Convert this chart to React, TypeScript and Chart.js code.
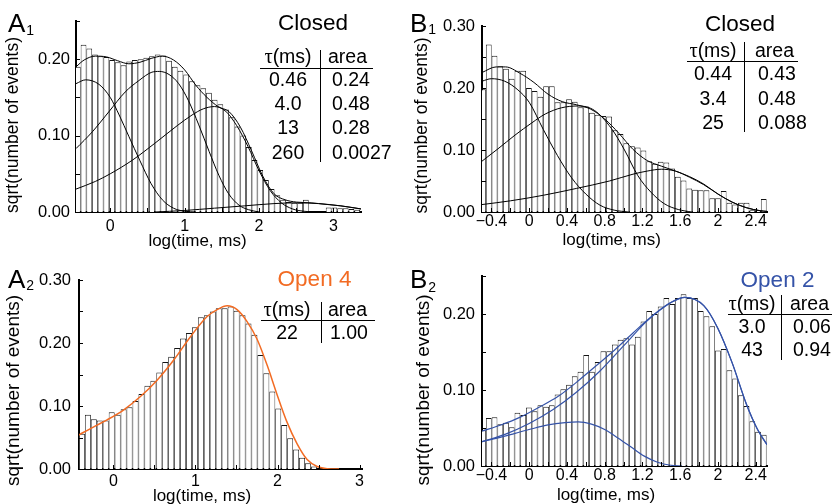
import React, { useEffect, useRef } from 'react';
import { Chart, registerables } from 'chart.js';

Chart.register(...registerables);

const SANS = "'Liberation Sans', Arial, Helvetica, sans-serif";
const SERIF = "'Liberation Serif', 'Times New Roman', serif";
Chart.defaults.font.family = SANS;
Chart.defaults.color = '#000';

const INK = '#000000';
const BAR_EDGE = '#141414';
const ORANGE = '#f26b23';
const BLUE = '#3553a8';

type Pt = [number, number];

// ---- axis ticks -------------------------------------------------------
const A_X_TICKS = [0, 0.5, 1, 1.5, 2, 2.5, 3];
const A_X_LABELS = ['0', '', '1', '', '2', '', '3'];
const B_X_TICKS = [-0.4, -0.2, 0, 0.2, 0.4, 0.6, 0.8, 1.0, 1.2, 1.4, 1.6, 1.8, 2.0, 2.2, 2.4];
const B_X_LABELS = ['\u22120.4', '', '0', '', '0.4', '', '0.8', '', '1.2', '', '1.6', '', '2', '', '2.4'];
const Y_TICKS_25 = [0, 0.05, 0.1, 0.15, 0.2, 0.25];
const Y_LABELS_25 = ['0.00', '', '0.10', '', '0.20', ''];
const Y_TICKS_30 = [0, 0.05, 0.1, 0.15, 0.2, 0.25, 0.3];
const Y_LABELS_30 = ['0.00', '', '0.10', '', '0.20', '', '0.30'];

// ---- histogram bins (log10 of dwell time, ms) -------------------------
const A1_BIN_START = -0.4734;
const A1_BIN_WIDTH = 0.0766;
const A2_BIN_START = -0.42;
const A2_BIN_WIDTH = 0.0725;
const B_BIN_START = -0.519;
const B_BIN_WIDTH = 0.0607;

// sqrt(number of events) per bin
const A1_BARS = [
  0.190, 0.219, 0.214, 0.206, 0.204, 0.203, 0.199, 0.196, 0.192, 0.197,
  0.199, 0.200, 0.202, 0.204, 0.206, 0.205, 0.198, 0.190, 0.185, 0.180,
  0.171, 0.166, 0.162, 0.156, 0.147, 0.141, 0.134, 0.124, 0.112, 0.100,
  0.085, 0.068, 0.055, 0.042, 0.030, 0.022, 0.016, 0.013, 0.012, 0.012,
  0.016, 0, 0, 0, 0.006, 0.006, 0.005, 0.005, 0.004, 0.003,
];
const A2_BARS = [
  0.056, 0.086, 0.079, 0.077, 0.077, 0.090, 0.086, 0.095, 0.098, 0.108,
  0.119, 0.132, 0.140, 0.153, 0.170, 0.178, 0.192, 0.207, 0.216, 0.225,
  0.241, 0.244, 0.250, 0.255, 0.255, 0.258, 0.251, 0.244, 0.231, 0.213,
  0.181, 0.152, 0.123, 0.096, 0.070, 0.049, 0.031, 0.018, 0.009, 0.004,
];
const B1_BARS = [
  0.198, 0.270, 0.252, 0.235, 0.231, 0.215, 0.228, 0.228, 0.200, 0.195,
  0.186, 0.203, 0.203, 0.177, 0.177, 0.182, 0.178, 0.169, 0.170, 0.160,
  0.157, 0.155, 0.154, 0.132, 0.126, 0.111, 0.106, 0.104, 0.099, 0.082,
  0.078, 0.081, 0.080, 0.070, 0.057, 0.051, 0.038, 0.036, 0.035, 0.035,
  0.022, 0.022, 0.034, 0.015, 0.012, 0.015, 0.015, 0.003, 0.003, 0.021,
];
const B2_BARS = [
  0.047, 0.063, 0.064, 0.055, 0.057, 0.051, 0.070, 0.067, 0.077, 0.072,
  0.080, 0.078, 0.080, 0.094, 0.101, 0.107, 0.118, 0.124, 0.146, 0.124,
  0.137, 0.151, 0.151, 0.160, 0.166, 0.168, 0.160, 0.170, 0.190, 0.204,
  0.200, 0.210, 0.221, 0.213, 0.221, 0.226, 0.221, 0.221, 0.204, 0.197,
  0.184, 0.152, 0.154, 0.126, 0.115, 0.093, 0.079, 0.059, 0.045, 0.041,
];

// ---- fitted curves: [log time, sqrt(events)] --------------------------
const A1_FIT_SUM: Pt[] = [
  [-0.46, 0.190], [-0.35, 0.199], [-0.2, 0.204], [-0.05, 0.203], [0.1, 0.198],
  [0.25, 0.194], [0.4, 0.196], [0.55, 0.201], [0.7, 0.204], [0.85, 0.199],
  [1.0, 0.186], [1.15, 0.166], [1.3, 0.150], [1.45, 0.138], [1.6, 0.131],
  [1.75, 0.111], [1.9, 0.080], [2.05, 0.047], [2.2, 0.024], [2.35, 0.016],
  [2.5, 0.013], [2.7, 0.012], [2.9, 0.010], [3.1, 0.008], [3.37, 0.004],
];
const A1_FIT_C1: Pt[] = [
  [-0.46, 0.168], [-0.33, 0.173], [-0.15, 0.167], [0.0, 0.150], [0.12, 0.127],
  [0.25, 0.099], [0.4, 0.067], [0.55, 0.037], [0.7, 0.016], [0.85, 0.005],
  [1.0, 0.001], [1.15, 0],
];
const A1_FIT_C2: Pt[] = [
  [-0.46, 0.083], [-0.24, 0.105], [-0.02, 0.131], [0.2, 0.157], [0.385, 0.172],
  [0.56, 0.183], [0.66, 0.184], [0.79, 0.180], [0.92, 0.168], [1.05, 0.146],
  [1.19, 0.114], [1.33, 0.079], [1.46, 0.048], [1.59, 0.024], [1.73, 0.009],
  [1.86, 0.003], [2.0, 0],
];
const A1_FIT_C3: Pt[] = [
  [-0.46, 0.030], [-0.2, 0.040], [0.0, 0.050], [0.3, 0.068], [0.6, 0.090],
  [0.9, 0.113], [1.1, 0.127], [1.25, 0.135], [1.4, 0.138], [1.55, 0.132],
  [1.7, 0.113], [1.85, 0.086], [2.0, 0.054], [2.15, 0.028], [2.3, 0.012],
  [2.45, 0.004], [2.6, 0.001], [2.75, 0],
];
const A1_FIT_C4: Pt[] = [
  [0.6, 0], [1.0, 0.002], [1.4, 0.005], [1.8, 0.008], [2.2, 0.011],
  [2.5, 0.012], [2.8, 0.011], [3.1, 0.008], [3.37, 0.004],
];
const A2_FIT: Pt[] = [
  [-0.423, 0.054], [-0.24, 0.067], [-0.078, 0.078], [0.126, 0.094], [0.329, 0.115],
  [0.532, 0.141], [0.735, 0.173], [0.939, 0.210], [1.142, 0.242], [1.264, 0.253],
  [1.386, 0.259], [1.507, 0.253], [1.629, 0.234], [1.751, 0.206], [1.873, 0.165],
  [1.995, 0.118], [2.117, 0.074], [2.239, 0.040], [2.361, 0.015], [2.483, 0.004],
  [2.605, 0.0005], [2.75, 0],
];
const B1_FIT_SUM: Pt[] = [
  [-0.5, 0.225], [-0.35, 0.234], [-0.25, 0.234], [-0.1, 0.224], [0.05, 0.209],
  [0.2, 0.190], [0.35, 0.178], [0.5, 0.173], [0.65, 0.166], [0.8, 0.150],
  [0.95, 0.127], [1.1, 0.101], [1.25, 0.083], [1.4, 0.074], [1.55, 0.066],
  [1.7, 0.057], [1.85, 0.045], [2.0, 0.029], [2.15, 0.016], [2.3, 0.007],
  [2.45, 0.002], [2.52, 0.001],
];
const B1_FIT_C1: Pt[] = [
  [-0.5, 0.211], [-0.4, 0.215], [-0.26, 0.211], [-0.12, 0.197], [0.0, 0.177],
  [0.15, 0.133], [0.3, 0.091], [0.45, 0.055], [0.6, 0.029], [0.75, 0.011],
  [0.9, 0.003], [1.05, 0],
];
const B1_FIT_C2: Pt[] = [
  [-0.5, 0.082], [-0.33, 0.102], [-0.15, 0.124], [0.03, 0.144], [0.17, 0.158],
  [0.34, 0.168], [0.52, 0.171], [0.69, 0.164], [0.87, 0.135], [1.01, 0.100],
  [1.15, 0.059], [1.29, 0.032], [1.43, 0.0135], [1.58, 0.004], [1.72, 0],
];
const B1_FIT_C3: Pt[] = [
  [-0.5, 0.012], [-0.2, 0.018], [0.15, 0.027], [0.5, 0.038], [0.85, 0.050],
  [1.1, 0.061], [1.25, 0.066], [1.4, 0.069], [1.55, 0.066], [1.7, 0.056],
  [1.85, 0.044], [2.0, 0.029], [2.15, 0.016], [2.3, 0.007], [2.45, 0.002],
  [2.52, 0.001],
];
const B2_FIT_SUM: Pt[] = [
  [-0.5, 0.046], [-0.3, 0.054], [-0.1, 0.064], [0.1, 0.077], [0.3, 0.091],
  [0.5, 0.110], [0.7, 0.131], [0.9, 0.152], [1.1, 0.175], [1.3, 0.197],
  [1.5, 0.215], [1.65, 0.222], [1.85, 0.211], [2.0, 0.181], [2.15, 0.136],
  [2.3, 0.082], [2.42, 0.048], [2.52, 0.028],
];
const B2_FIT_C1: Pt[] = [
  [-0.5, 0.032], [-0.33, 0.037], [-0.15, 0.043], [0.03, 0.049], [0.2, 0.054],
  [0.38, 0.057], [0.52, 0.058], [0.66, 0.055], [0.8, 0.048], [0.94, 0.037],
  [1.08, 0.025], [1.22, 0.013], [1.36, 0.005], [1.5, 0.001], [1.62, 0],
];
const B2_FIT_C2: Pt[] = [
  [-0.5, 0.032], [-0.25, 0.042], [0.0, 0.056], [0.25, 0.074], [0.5, 0.097],
  [0.75, 0.125], [1.0, 0.158], [1.25, 0.191], [1.5, 0.215], [1.65, 0.222],
  [1.85, 0.211], [2.0, 0.181], [2.15, 0.136], [2.3, 0.082], [2.42, 0.048],
  [2.52, 0.028],
];

// ---- fit parameter tables ---------------------------------------------
const A1_TAU = ['0.46', '4.0', '13', '260'];
const A1_AREA = ['0.24', '0.48', '0.28', '0.0027'];
const B1_TAU = ['0.44', '3.4', '25'];
const B1_AREA = ['0.43', '0.48', '0.088'];
const A2_TAU = ['22'];
const A2_AREA = ['1.00'];
const B2_TAU = ['3.0', '43'];
const B2_AREA = ['0.06', '0.94'];

const Y_TITLE = 'sqrt(number of events)';
const X_TITLE = 'log(time, ms)';

interface Fit { pts: Pt[]; color: string; width: number }
interface Table {
  taus: string[]; areas: string[];
  tauX: number; areaHeadX: number; valX: number; headY: number; rowY: number[];
  ruleY: number; ruleX: [number, number]; divX: number; divY: [number, number];
}
interface Panel {
  id: string; left: number; top: number; width: number; height: number;
  area: { l: number; r: number; t: number; b: number };
  xMin: number; xMax: number; yMax: number;
  xTicks: number[]; xLabels: string[]; yTicks: number[]; yLabels: string[];
  xPad: number; yPad: number;
  binStart: number; binWidth: number; bars: number[];
  fits: Fit[];
  tag: string; sub: string; tagX: number; tagY: number; subDy: number;
  heading: string; headingColor: string; headingX: number; headingY: number;
  yTitleAt: [number, number]; yTitleSize: number; xTitleAt: [number, number];
  table: Table;
}

const PANELS: Panel[] = [
  {
    id: 'A1', left: 0, top: 0, width: 405, height: 252,
    area: { l: 76, r: 361, t: 21, b: 212 },
    xMin: -0.46, xMax: 3.37, yMax: 0.25,
    xTicks: A_X_TICKS, xLabels: A_X_LABELS, yTicks: Y_TICKS_25, yLabels: Y_LABELS_25,
    xPad: 5, yPad: 6,
    binStart: A1_BIN_START, binWidth: A1_BIN_WIDTH, bars: A1_BARS,
    fits: [
      { pts: A1_FIT_SUM, color: INK, width: 1 },
      { pts: A1_FIT_C1, color: INK, width: 1 },
      { pts: A1_FIT_C2, color: INK, width: 1 },
      { pts: A1_FIT_C3, color: INK, width: 1 },
      { pts: A1_FIT_C4, color: INK, width: 1 },
    ],
    tag: 'A', sub: '1', tagX: 8, tagY: 32, subDy: 3,
    heading: 'Closed', headingColor: INK, headingX: 313, headingY: 24,
    yTitleAt: [13, 125], yTitleSize: 17.5, xTitleAt: [197.5, 241],
    table: {
      taus: A1_TAU, areas: A1_AREA, tauX: 288, areaHeadX: 328, valX: 332,
      headY: 57.5, rowY: [80.7, 105, 128.8, 153.3],
      ruleY: 67.7, ruleX: [260, 373], divX: 320, divY: [50, 162],
    },
  },
  {
    id: 'B1', left: 405, top: 0, width: 427, height: 252,
    area: { l: 77, r: 362, t: 26, b: 212 },
    xMin: -0.5, xMax: 2.52, yMax: 0.30,
    xTicks: B_X_TICKS, xLabels: B_X_LABELS, yTicks: Y_TICKS_30, yLabels: Y_LABELS_30,
    xPad: 0, yPad: 7,
    binStart: B_BIN_START, binWidth: B_BIN_WIDTH, bars: B1_BARS,
    fits: [
      { pts: B1_FIT_SUM, color: INK, width: 1 },
      { pts: B1_FIT_C1, color: INK, width: 1 },
      { pts: B1_FIT_C2, color: INK, width: 1 },
      { pts: B1_FIT_C3, color: INK, width: 1 },
    ],
    tag: 'B', sub: '1', tagX: 5, tagY: 32, subDy: 2,
    heading: 'Closed', headingColor: INK, headingX: 335, headingY: 25,
    yTitleAt: [17.5, 125.5], yTitleSize: 17.5, xTitleAt: [206.7, 240],
    table: {
      taus: B1_TAU, areas: B1_AREA, tauX: 308, areaHeadX: 350, valX: 353,
      headY: 51.5, rowY: [75, 99.3, 123.3],
      ruleY: 61, ruleX: [282, 393], divX: 339, divY: [42, 132],
    },
  },
  {
    id: 'A2', left: 0, top: 252, width: 405, height: 252,
    area: { l: 79, r: 362, t: 28, b: 217 },
    xMin: -0.42, xMax: 3.03, yMax: 0.30,
    xTicks: A_X_TICKS, xLabels: A_X_LABELS, yTicks: Y_TICKS_30, yLabels: Y_LABELS_30,
    xPad: 3, yPad: 8,
    binStart: A2_BIN_START, binWidth: A2_BIN_WIDTH, bars: A2_BARS,
    fits: [{ pts: A2_FIT, color: ORANGE, width: 1.5 }],
    tag: 'A', sub: '2', tagX: 8, tagY: 36, subDy: 2,
    heading: 'Open 4', headingColor: ORANGE, headingX: 314.5, headingY: 28,
    yTitleAt: [14, 138.5], yTitleSize: 19, xTitleAt: [202, 244],
    table: {
      taus: A2_TAU, areas: A2_AREA, tauX: 287, areaHeadX: 328, valX: 330,
      headY: 58.5, rowY: [81.3],
      ruleY: 68, ruleX: [261, 375], divX: 321, divY: [50, 91],
    },
  },
  {
    id: 'B2', left: 405, top: 252, width: 427, height: 252,
    area: { l: 77, r: 362, t: 24, b: 214 },
    xMin: -0.5, xMax: 2.52, yMax: 0.25,
    xTicks: B_X_TICKS, xLabels: B_X_LABELS, yTicks: Y_TICKS_25, yLabels: Y_LABELS_25,
    xPad: 0, yPad: 7,
    binStart: B_BIN_START, binWidth: B_BIN_WIDTH, bars: B2_BARS,
    fits: [
      { pts: B2_FIT_SUM, color: BLUE, width: 1.2 },
      { pts: B2_FIT_C1, color: BLUE, width: 1.2 },
      { pts: B2_FIT_C2, color: BLUE, width: 1.2 },
    ],
    tag: 'B', sub: '2', tagX: 5, tagY: 36, subDy: 4,
    heading: 'Open 2', headingColor: BLUE, headingX: 372.5, headingY: 29,
    yTitleAt: [19, 138], yTitleSize: 19, xTitleAt: [201, 243],
    table: {
      taus: B2_TAU, areas: B2_AREA, tauX: 347, areaHeadX: 385, valX: 388,
      headY: 52.5, rowY: [75.7, 99],
      ruleY: 62, ruleX: [323, 427], divX: 376, divY: [43, 108],
    },
  },
];

function putText(
  ctx: CanvasRenderingContext2D, s: string, x: number, y: number, size: number,
  align: CanvasTextAlign = 'center', color = INK, family = SANS,
) {
  ctx.font = `${size}px ${family}`;
  ctx.fillStyle = color;
  ctx.textAlign = align;
  ctx.textBaseline = 'middle';
  ctx.fillText(s, x, y);
}

function segment(ctx: CanvasRenderingContext2D, x1: number, y1: number, x2: number, y2: number) {
  ctx.beginPath();
  ctx.moveTo(x1, y1);
  ctx.lineTo(x2, y2);
  ctx.stroke();
}

// Inward tick marks, panel tag, heading, axis titles and the fit table
function decorations(p: Panel) {
  return {
    id: 'decor' + p.id,
    afterDraw(chart: any) {
      const ctx: CanvasRenderingContext2D = chart.ctx;
      const { left, bottom } = chart.chartArea;
      const xs = chart.scales.x;
      const ys = chart.scales.y;
      ctx.save();
      ctx.strokeStyle = INK;
      ctx.lineWidth = 1;
      for (const v of p.xTicks) {
        const px = Math.round(xs.getPixelForValue(v)) + 0.5;
        segment(ctx, px, bottom, px, bottom - 4);
      }
      for (const v of p.yTicks) {
        const py = Math.round(ys.getPixelForValue(v)) + 0.5;
        segment(ctx, left, py, left + 4, py);
      }

      // panel tag with subscript
      ctx.fillStyle = INK;
      ctx.textAlign = 'left';
      ctx.textBaseline = 'alphabetic';
      ctx.font = `26px ${SANS}`;
      ctx.fillText(p.tag, p.tagX, p.tagY);
      const tw = ctx.measureText(p.tag).width;
      ctx.font = `14px ${SANS}`;
      ctx.fillText(p.sub, p.tagX + tw + 1, p.tagY + p.subDy);

      putText(ctx, p.heading, p.headingX, p.headingY, 22.5, 'center', p.headingColor);

      // axis titles
      putText(ctx, X_TITLE, p.xTitleAt[0], p.xTitleAt[1], 17);
      ctx.save();
      ctx.translate(p.yTitleAt[0], p.yTitleAt[1]);
      ctx.rotate(-Math.PI / 2);
      putText(ctx, Y_TITLE, 0, 0, p.yTitleSize);
      ctx.restore();

      // fit table
      const t = p.table;
      const fs = 19.5;
      ctx.font = `${fs + 1}px ${SERIF}`;
      const wTau = ctx.measureText('\u03c4').width;
      ctx.font = `${fs}px ${SANS}`;
      const wMs = ctx.measureText('(ms)').width;
      const x0 = t.tauX - (wTau + wMs) / 2;
      putText(ctx, '\u03c4', x0, t.headY, fs + 1, 'left', INK, SERIF);
      putText(ctx, '(ms)', x0 + wTau, t.headY, fs, 'left');
      putText(ctx, 'area', t.areaHeadX, t.headY, fs, 'left');
      t.rowY.forEach((ry, i) => {
        putText(ctx, t.taus[i], t.tauX, ry, fs, 'center');
        putText(ctx, t.areas[i], t.valX, ry, fs, 'left');
      });
      ctx.lineWidth = 1;
      segment(ctx, t.ruleX[0], Math.round(t.ruleY) + 0.5, t.ruleX[1], Math.round(t.ruleY) + 0.5);
      segment(ctx, Math.round(t.divX) + 0.5, t.divY[0], Math.round(t.divX) + 0.5, t.divY[1]);
      ctx.restore();
    },
  };
}

function buildConfig(p: Panel): any {
  const barData = p.bars.map((h, i) => ({ x: p.binStart + (i + 0.5) * p.binWidth, y: h }));
  const datasets: any[] = [
    {
      type: 'bar',
      data: barData,
      backgroundColor: '#ffffff',
      borderColor: BAR_EDGE,
      borderWidth: { top: 1, left: 0.8, right: 0.8, bottom: 0 },
      inflateAmount: 0,
      barPercentage: 1,
      categoryPercentage: 1,
      order: 10,
    },
    ...p.fits.map((f) => ({
      type: 'line',
      data: f.pts.map(([x, y]) => ({ x, y })),
      borderColor: f.color,
      borderWidth: f.width,
      pointRadius: 0,
      fill: false,
      cubicInterpolationMode: 'monotone',
      order: 1,
    })),
  ];
  const xH = p.height - p.area.b;
  const yW = p.area.l;
  return {
    type: 'bar',
    data: { datasets },
    options: {
      responsive: false,
      animation: false,
      events: [],
      layout: { padding: { left: 0, top: p.area.t, right: p.width - p.area.r, bottom: 0 } },
      plugins: { legend: { display: false }, tooltip: { enabled: false } },
      scales: {
        x: {
          type: 'linear',
          min: p.xMin,
          max: p.xMax,
          offset: false,
          grid: { display: false, drawTicks: false },
          border: { display: true, color: INK, width: 2 },
          ticks: {
            font: { size: 16, family: SANS },
            color: INK,
            padding: p.xPad,
            autoSkip: false,
            maxRotation: 0,
            callback: (_v: any, i: number) => p.xLabels[i],
          },
          afterBuildTicks: (s: any) => { s.ticks = p.xTicks.map((v) => ({ value: v })); },
          afterFit: (s: any) => { s.height = xH; },
        },
        y: {
          type: 'linear',
          min: 0,
          max: p.yMax,
          grid: { display: false, drawTicks: false },
          border: { display: true, color: INK, width: 2 },
          ticks: {
            font: { size: 16.5, family: SANS },
            color: INK,
            padding: p.yPad,
            autoSkip: false,
            callback: (_v: any, i: number) => p.yLabels[i],
          },
          afterBuildTicks: (s: any) => { s.ticks = p.yTicks.map((v) => ({ value: v })); },
          afterFit: (s: any) => { s.width = yW; },
        },
      },
    },
    plugins: [decorations(p)],
  };
}

function HistogramPanel({ panel }: { panel: Panel }) {
  const ref = useRef<HTMLCanvasElement>(null);
  useEffect(() => {
    if (!ref.current) return;
    const chart = new Chart(ref.current, buildConfig(panel));
    return () => chart.destroy();
  }, [panel]);
  return (
    <canvas
      ref={ref}
      width={panel.width}
      height={panel.height}
      style={{ position: 'absolute', left: panel.left, top: panel.top, width: panel.width, height: panel.height }}
    />
  );
}

export default function App() {
  return (
    <div style={{ position: 'absolute', left: 0, top: 0, width: 832, height: 504, background: '#ffffff', overflow: 'hidden' }}>
      {PANELS.map((p) => (
        <HistogramPanel key={p.id} panel={p} />
      ))}
    </div>
  );
}
